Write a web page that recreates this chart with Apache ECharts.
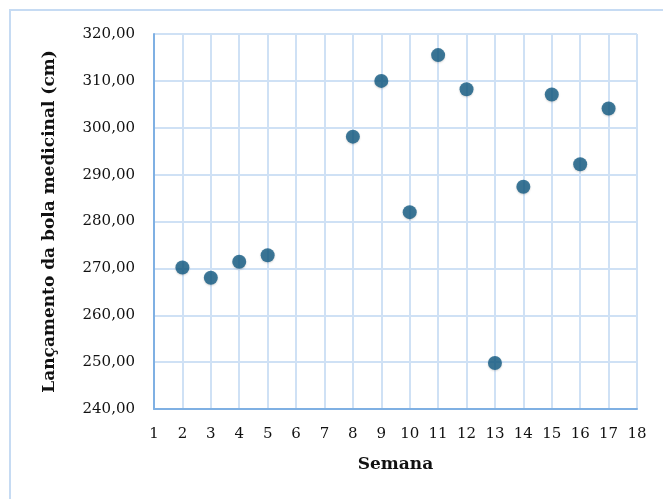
<!DOCTYPE html>
<html>
<head>
<meta charset="utf-8">
<script src="https://cdn.jsdelivr.net/npm/echarts@6/dist/echarts.min.js"></script>
<style>
  html, body { margin: 0; padding: 0; background: #ffffff; }
  #chart { width: 663px; height: 499px; }
</style>
</head>
<body>
<div id="chart"></div>
<script>
// Week number and medicine-ball throw distance (cm)
const semanas = [2, 3, 4, 5, 8, 9, 10, 11, 12, 13, 14, 15, 16, 17];
const lancamentos = [270.2, 268.0, 271.4, 272.8, 298.1, 310.0, 282.0, 315.5, 308.2, 249.8, 287.4, 307.1, 292.2, 304.1];

const xMin = 1, xMax = 18;
const yMin = 240, yMax = 320, yStep = 10;

const serif = '"DejaVu Serif", "Liberation Serif", serif';
const pontos = semanas.map((s, i) => [s, lancamentos[i]]);

const chart = echarts.init(document.getElementById('chart'));
chart.setOption({
  backgroundColor: '#ffffff',
  animation: false,
  graphic: [{
    type: 'rect',
    shape: { x: 10, y: 10, width: 720, height: 560 },
    style: { fill: 'none', stroke: '#c6dbf3', lineWidth: 2 },
    silent: true
  }],
  grid: { left: 154, top: 34, width: 483, height: 375, containLabel: false },
  xAxis: {
    type: 'value',
    min: xMin, max: xMax, interval: 1,
    name: 'Semana',
    nameLocation: 'middle',
    nameGap: 47,
    nameTextStyle: { fontFamily: serif, fontWeight: 'bold', fontSize: 17, color: '#111' },
    axisLine: { show: true, lineStyle: { color: '#7fb0e3', width: 2 } },
    axisTick: { show: false },
    axisLabel: { fontFamily: serif, fontSize: 15, color: '#111', margin: 18 },
    splitLine: { show: true, lineStyle: { color: '#cfe1f5', width: 2 } }
  },
  yAxis: {
    type: 'value',
    min: yMin, max: yMax, interval: yStep,
    name: 'Lançamento da bola medicinal (cm)',
    nameLocation: 'middle',
    nameGap: 96,
    nameTextStyle: { fontFamily: serif, fontWeight: 'bold', fontSize: 17, color: '#111' },
    axisLine: { show: true, lineStyle: { color: '#7fb0e3', width: 2 } },
    axisTick: { show: false },
    axisLabel: {
      fontFamily: serif, fontSize: 15, color: '#111', margin: 19,
      formatter: v => v.toFixed(2).replace('.', ',')
    },
    splitLine: { show: true, lineStyle: { color: '#cfe1f5', width: 2 } }
  },
  series: [{
    type: 'scatter',
    data: pontos,
    symbol: 'circle',
    symbolSize: 14,
    itemStyle: {
      color: '#125a82',
      shadowColor: 'rgba(0,0,0,0.2)',
      shadowBlur: 2,
      shadowOffsetY: 1
    }
  }]
});
</script>
</body>
</html>
